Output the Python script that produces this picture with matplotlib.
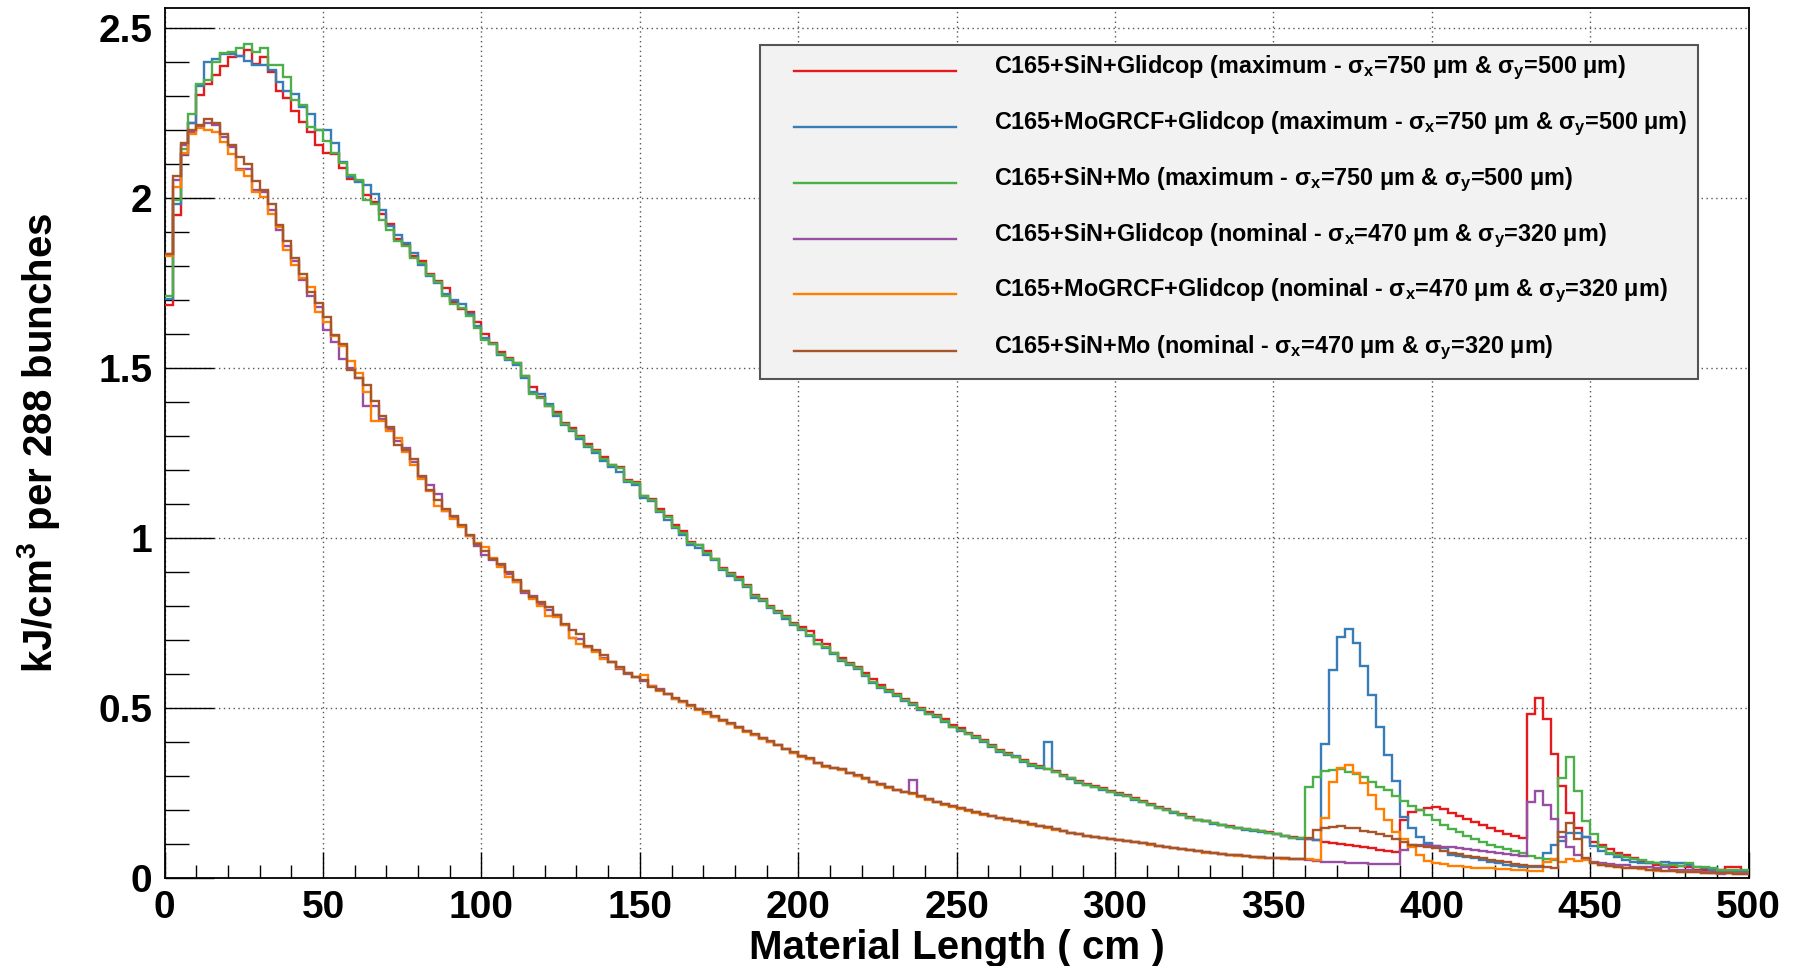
import numpy as np
import matplotlib
matplotlib.use("Agg")
import matplotlib.pyplot as plt
from matplotlib.patches import Rectangle
from matplotlib.ticker import MultipleLocator, FuncFormatter


# DATA : energy deposition per 2.5 cm bin, 0 -> 500 cm

BIN_WIDTH = 2.5
X_MIN, X_MAX = 0.0, 500.0

red_max = [
    1.685, 1.952, 2.127, 2.222, 2.303, 2.335, 2.364, 2.389, 2.416, 2.419,
    2.437, 2.394, 2.417, 2.372, 2.316, 2.296, 2.258, 2.225, 2.196, 2.157,
    2.132, 2.129, 2.088, 2.058, 2.050, 2.010, 1.990, 1.955, 1.925, 1.880,
    1.862, 1.830, 1.815, 1.776, 1.756, 1.735, 1.694, 1.675, 1.665, 1.635,
    1.600, 1.575, 1.548, 1.530, 1.516, 1.476, 1.445, 1.415, 1.390, 1.370,
    1.340, 1.325, 1.300, 1.278, 1.258, 1.240, 1.215, 1.208, 1.172, 1.165,
    1.125, 1.115, 1.085, 1.066, 1.040, 1.020, 0.990, 0.980, 0.962, 0.940,
    0.912, 0.898, 0.885, 0.862, 0.834, 0.820, 0.800, 0.787, 0.770, 0.750,
    0.740, 0.728, 0.700, 0.688, 0.663, 0.646, 0.634, 0.620, 0.602, 0.585,
    0.568, 0.553, 0.540, 0.527, 0.515, 0.499, 0.487, 0.480, 0.467, 0.450,
    0.440, 0.428, 0.417, 0.405, 0.390, 0.378, 0.367, 0.357, 0.347, 0.334,
    0.329, 0.322, 0.314, 0.302, 0.295, 0.285, 0.277, 0.271, 0.264, 0.257,
    0.249, 0.244, 0.234, 0.227, 0.217, 0.208, 0.202, 0.195, 0.187, 0.180,
    0.172, 0.169, 0.163, 0.157, 0.152, 0.148, 0.144, 0.141, 0.138, 0.134,
    0.130, 0.125, 0.120, 0.117, 0.116, 0.112, 0.107, 0.102, 0.100, 0.098,
    0.094, 0.092, 0.088, 0.083, 0.080, 0.077, 0.171, 0.195, 0.200, 0.205,
    0.208, 0.202, 0.192, 0.183, 0.173, 0.164, 0.155, 0.146, 0.138, 0.130,
    0.124, 0.118, 0.482, 0.531, 0.467, 0.364, 0.271, 0.190, 0.146, 0.122,
    0.107, 0.097, 0.084, 0.074, 0.068, 0.058, 0.050, 0.045, 0.038, 0.038,
    0.033, 0.035, 0.031, 0.025, 0.024, 0.019, 0.024, 0.031, 0.031, 0.019,
]

blue_max = [
    1.705, 1.984, 2.131, 2.222, 2.331, 2.402, 2.410, 2.425, 2.425, 2.420,
    2.405, 2.392, 2.392, 2.377, 2.341, 2.316, 2.306, 2.270, 2.248, 2.201,
    2.201, 2.164, 2.108, 2.063, 2.048, 2.039, 2.012, 1.966, 1.919, 1.891,
    1.870, 1.840, 1.805, 1.770, 1.752, 1.718, 1.700, 1.690, 1.660, 1.625,
    1.590, 1.570, 1.540, 1.524, 1.510, 1.470, 1.430, 1.425, 1.395, 1.360,
    1.333, 1.315, 1.292, 1.268, 1.250, 1.226, 1.208, 1.196, 1.165, 1.155,
    1.118, 1.110, 1.076, 1.052, 1.030, 1.010, 0.980, 0.972, 0.950, 0.935,
    0.905, 0.890, 0.878, 0.856, 0.825, 0.814, 0.795, 0.780, 0.763, 0.744,
    0.731, 0.712, 0.688, 0.677, 0.659, 0.639, 0.628, 0.614, 0.595, 0.574,
    0.560, 0.548, 0.535, 0.522, 0.509, 0.494, 0.482, 0.474, 0.460, 0.443,
    0.433, 0.423, 0.412, 0.400, 0.386, 0.372, 0.362, 0.358, 0.342, 0.330,
    0.324, 0.401, 0.311, 0.299, 0.291, 0.281, 0.273, 0.267, 0.259, 0.252,
    0.245, 0.240, 0.230, 0.223, 0.214, 0.206, 0.199, 0.192, 0.184, 0.177,
    0.170, 0.167, 0.160, 0.155, 0.150, 0.146, 0.142, 0.139, 0.136, 0.132,
    0.128, 0.123, 0.118, 0.116, 0.114, 0.112, 0.393, 0.612, 0.710, 0.734,
    0.692, 0.624, 0.538, 0.445, 0.362, 0.285, 0.180, 0.147, 0.120, 0.102,
    0.095, 0.087, 0.068, 0.065, 0.061, 0.058, 0.053, 0.048, 0.043, 0.038,
    0.036, 0.033, 0.033, 0.033, 0.074, 0.096, 0.110, 0.131, 0.132, 0.122,
    0.095, 0.080, 0.072, 0.063, 0.053, 0.048, 0.045, 0.045, 0.043, 0.048,
    0.043, 0.045, 0.038, 0.033, 0.028, 0.024, 0.022, 0.022, 0.019, 0.022,
]

green_max = [
    1.713, 1.995, 2.144, 2.248, 2.335, 2.349, 2.402, 2.429, 2.430, 2.443,
    2.453, 2.432, 2.443, 2.392, 2.392, 2.358, 2.289, 2.275, 2.210, 2.201,
    2.169, 2.134, 2.103, 2.068, 2.053, 1.995, 1.982, 1.936, 1.906, 1.875,
    1.860, 1.825, 1.810, 1.774, 1.754, 1.713, 1.688, 1.678, 1.653, 1.617,
    1.582, 1.572, 1.543, 1.528, 1.514, 1.476, 1.424, 1.411, 1.388, 1.364,
    1.337, 1.318, 1.298, 1.271, 1.257, 1.234, 1.215, 1.205, 1.169, 1.161,
    1.123, 1.112, 1.080, 1.061, 1.033, 1.016, 0.986, 0.979, 0.955, 0.940,
    0.908, 0.894, 0.881, 0.859, 0.829, 0.818, 0.798, 0.783, 0.767, 0.747,
    0.734, 0.716, 0.690, 0.680, 0.661, 0.641, 0.631, 0.617, 0.597, 0.577,
    0.563, 0.551, 0.538, 0.524, 0.512, 0.496, 0.484, 0.477, 0.463, 0.445,
    0.435, 0.425, 0.414, 0.402, 0.388, 0.375, 0.365, 0.355, 0.345, 0.332,
    0.326, 0.320, 0.312, 0.300, 0.293, 0.283, 0.275, 0.269, 0.261, 0.254,
    0.247, 0.242, 0.231, 0.225, 0.215, 0.207, 0.200, 0.193, 0.185, 0.178,
    0.171, 0.168, 0.161, 0.156, 0.151, 0.147, 0.143, 0.141, 0.137, 0.133,
    0.129, 0.124, 0.119, 0.117, 0.267, 0.298, 0.316, 0.318, 0.320, 0.313,
    0.305, 0.296, 0.283, 0.267, 0.258, 0.242, 0.226, 0.211, 0.200, 0.185,
    0.172, 0.155, 0.144, 0.134, 0.124, 0.115, 0.106, 0.098, 0.091, 0.085,
    0.079, 0.075, 0.066, 0.060, 0.057, 0.054, 0.295, 0.357, 0.257, 0.169,
    0.128, 0.092, 0.075, 0.068, 0.063, 0.055, 0.053, 0.048, 0.045, 0.038,
    0.038, 0.035, 0.043, 0.031, 0.031, 0.028, 0.025, 0.025, 0.024, 0.024,
]

purple_nom = [
    1.835, 2.055, 2.158, 2.195, 2.212, 2.222, 2.215, 2.180, 2.150, 2.085,
    2.085, 2.025, 2.018, 1.965, 1.906, 1.860, 1.815, 1.759, 1.714, 1.680,
    1.612, 1.577, 1.526, 1.500, 1.470, 1.390, 1.389, 1.350, 1.320, 1.285,
    1.265, 1.225, 1.180, 1.155, 1.130, 1.080, 1.060, 1.035, 1.005, 0.978,
    0.950, 0.935, 0.920, 0.895, 0.872, 0.840, 0.830, 0.805, 0.790, 0.775,
    0.745, 0.706, 0.702, 0.680, 0.668, 0.648, 0.635, 0.615, 0.600, 0.592,
    0.580, 0.565, 0.555, 0.540, 0.528, 0.518, 0.507, 0.497, 0.486, 0.475,
    0.465, 0.454, 0.444, 0.432, 0.422, 0.411, 0.401, 0.391, 0.380, 0.369,
    0.358, 0.350, 0.339, 0.330, 0.325, 0.320, 0.310, 0.301, 0.293, 0.283,
    0.276, 0.267, 0.259, 0.254, 0.288, 0.241, 0.231, 0.225, 0.218, 0.212,
    0.205, 0.200, 0.193, 0.188, 0.183, 0.178, 0.173, 0.169, 0.164, 0.159,
    0.154, 0.149, 0.143, 0.138, 0.133, 0.129, 0.125, 0.122, 0.119, 0.115,
    0.112, 0.110, 0.106, 0.103, 0.099, 0.095, 0.092, 0.088, 0.085, 0.082,
    0.079, 0.076, 0.074, 0.071, 0.069, 0.067, 0.065, 0.063, 0.061, 0.060,
    0.059, 0.058, 0.057, 0.056, 0.053, 0.050, 0.048, 0.047, 0.046, 0.045,
    0.044, 0.043, 0.042, 0.041, 0.041, 0.040, 0.082, 0.097, 0.097, 0.096,
    0.094, 0.092, 0.090, 0.087, 0.085, 0.082, 0.079, 0.077, 0.074, 0.071,
    0.068, 0.065, 0.224, 0.256, 0.216, 0.173, 0.120, 0.090, 0.068, 0.056,
    0.048, 0.043, 0.041, 0.038, 0.037, 0.033, 0.031, 0.031, 0.028, 0.033,
    0.025, 0.023, 0.023, 0.021, 0.019, 0.016, 0.012, 0.014, 0.014, 0.014,
]

orange_nom = [
    1.830, 2.033, 2.134, 2.188, 2.208, 2.202, 2.195, 2.166, 2.131, 2.082,
    2.065, 2.019, 2.004, 1.953, 1.915, 1.847, 1.804, 1.765, 1.739, 1.665,
    1.635, 1.594, 1.566, 1.520, 1.485, 1.430, 1.345, 1.344, 1.315, 1.295,
    1.255, 1.215, 1.175, 1.140, 1.095, 1.080, 1.055, 1.032, 1.005, 0.985,
    0.975, 0.942, 0.915, 0.885, 0.872, 0.845, 0.822, 0.800, 0.770, 0.768,
    0.745, 0.705, 0.690, 0.680, 0.665, 0.645, 0.635, 0.618, 0.602, 0.590,
    0.596, 0.566, 0.551, 0.540, 0.528, 0.517, 0.506, 0.495, 0.484, 0.474,
    0.463, 0.453, 0.442, 0.431, 0.420, 0.410, 0.400, 0.390, 0.379, 0.368,
    0.357, 0.349, 0.337, 0.328, 0.323, 0.319, 0.308, 0.300, 0.291, 0.282,
    0.274, 0.266, 0.258, 0.252, 0.247, 0.239, 0.230, 0.223, 0.216, 0.210,
    0.203, 0.198, 0.191, 0.186, 0.181, 0.176, 0.171, 0.167, 0.162, 0.157,
    0.152, 0.147, 0.142, 0.137, 0.132, 0.128, 0.124, 0.121, 0.117, 0.114,
    0.111, 0.108, 0.105, 0.102, 0.098, 0.094, 0.091, 0.087, 0.084, 0.081,
    0.078, 0.075, 0.073, 0.070, 0.068, 0.066, 0.064, 0.062, 0.060, 0.059,
    0.058, 0.057, 0.056, 0.055, 0.055, 0.054, 0.178, 0.283, 0.325, 0.332,
    0.310, 0.280, 0.244, 0.202, 0.171, 0.136, 0.115, 0.090, 0.067, 0.050,
    0.045, 0.040, 0.036, 0.034, 0.032, 0.030, 0.029, 0.028, 0.027, 0.026,
    0.025, 0.023, 0.021, 0.020, 0.048, 0.055, 0.048, 0.055, 0.050, 0.053,
    0.045, 0.038, 0.035, 0.032, 0.030, 0.028, 0.026, 0.024, 0.022, 0.022,
    0.020, 0.019, 0.018, 0.017, 0.016, 0.015, 0.015, 0.014, 0.013, 0.012,
]

brown_nom = [
    1.835, 2.065, 2.164, 2.200, 2.215, 2.232, 2.222, 2.190, 2.156, 2.121,
    2.102, 2.051, 2.024, 1.984, 1.921, 1.873, 1.825, 1.776, 1.723, 1.691,
    1.651, 1.597, 1.572, 1.496, 1.472, 1.452, 1.404, 1.359, 1.328, 1.273,
    1.258, 1.232, 1.182, 1.141, 1.111, 1.085, 1.065, 1.040, 1.009, 0.984,
    0.963, 0.940, 0.925, 0.901, 0.876, 0.845, 0.827, 0.813, 0.796, 0.773,
    0.747, 0.731, 0.719, 0.682, 0.670, 0.656, 0.636, 0.621, 0.604, 0.590,
    0.582, 0.563, 0.553, 0.541, 0.530, 0.520, 0.508, 0.498, 0.487, 0.476,
    0.466, 0.455, 0.445, 0.433, 0.423, 0.412, 0.402, 0.392, 0.381, 0.370,
    0.359, 0.352, 0.339, 0.329, 0.325, 0.322, 0.310, 0.302, 0.293, 0.283,
    0.276, 0.267, 0.259, 0.254, 0.249, 0.241, 0.231, 0.225, 0.218, 0.212,
    0.205, 0.200, 0.193, 0.188, 0.183, 0.178, 0.173, 0.169, 0.164, 0.159,
    0.154, 0.149, 0.143, 0.138, 0.133, 0.129, 0.125, 0.122, 0.119, 0.115,
    0.112, 0.110, 0.106, 0.103, 0.099, 0.095, 0.092, 0.088, 0.085, 0.082,
    0.079, 0.076, 0.074, 0.071, 0.069, 0.067, 0.065, 0.063, 0.061, 0.060,
    0.059, 0.058, 0.057, 0.056, 0.117, 0.141, 0.146, 0.149, 0.153, 0.147,
    0.146, 0.139, 0.134, 0.129, 0.124, 0.114, 0.105, 0.097, 0.095, 0.092,
    0.087, 0.080, 0.075, 0.070, 0.066, 0.062, 0.058, 0.054, 0.050, 0.046,
    0.042, 0.039, 0.036, 0.034, 0.031, 0.030, 0.134, 0.161, 0.114, 0.060,
    0.043, 0.038, 0.035, 0.033, 0.030, 0.028, 0.028, 0.025, 0.024, 0.022,
    0.020, 0.019, 0.018, 0.018, 0.016, 0.016, 0.015, 0.015, 0.013, 0.013,
]

LABELS = [
    r"C165+SiN+Glidcop (maximum - σ$_{x}$=750 μm & σ$_{y}$=500 μm)",
    r"C165+MoGRCF+Glidcop (maximum - σ$_{x}$=750 μm & σ$_{y}$=500 μm)",
    r"C165+SiN+Mo (maximum - σ$_{x}$=750 μm & σ$_{y}$=500 μm)",
    r"C165+SiN+Glidcop (nominal - σ$_{x}$=470 μm & σ$_{y}$=320 μm)",
    r"C165+MoGRCF+Glidcop (nominal - σ$_{x}$=470 μm & σ$_{y}$=320 μm)",
    r"C165+SiN+Mo (nominal - σ$_{x}$=470 μm & σ$_{y}$=320 μm)",
]

COLORS = ["#e41a1c", "#377eb8", "#4daf4a", "#984ea3", "#ff7f00", "#a65628"]

SERIES = [red_max, blue_max, green_max, purple_nom, orange_nom, brown_nom]


# STYLE

plt.rcParams["font.family"] = ["Liberation Sans", "DejaVu Sans"]
plt.rcParams["font.weight"] = "bold"
plt.rcParams["axes.labelweight"] = "bold"
plt.rcParams["mathtext.fontset"] = "custom"
plt.rcParams["mathtext.rm"] = "Liberation Sans:bold"
plt.rcParams["mathtext.it"] = "Liberation Sans:bold"
plt.rcParams["mathtext.bf"] = "Liberation Sans:bold"


def main():
    fig = plt.figure(figsize=(18, 9.66), dpi=100)
    ax = fig.add_axes([0.0915, 0.0911, 0.8799, 0.9006])

    edges = np.arange(len(red_max) + 1) * BIN_WIDTH

    for values, color in zip(SERIES, COLORS):
        ax.stairs(values, edges, color=color, lw=1.7, baseline=None, zorder=3)

    ax.set_xlim(X_MIN, X_MAX)
    ax.set_ylim(0, 2.56)

    # ticks ROOT style
    ax.xaxis.set_major_locator(MultipleLocator(50))
    ax.xaxis.set_minor_locator(MultipleLocator(10))
    ax.yaxis.set_major_locator(MultipleLocator(0.5))
    ax.yaxis.set_minor_locator(MultipleLocator(0.1))
    ax.yaxis.set_major_formatter(FuncFormatter(lambda v, p: f"{v:g}"))

    ax.tick_params(which="both", direction="in", top=False, right=False,
                   width=1.0, color="black", labelsize=28)
    ax.tick_params(axis="x", which="major", length=19, pad=9)
    ax.tick_params(axis="x", which="minor", length=9.5)
    ax.tick_params(axis="y", which="major", length=35, pad=9)
    ax.tick_params(axis="y", which="minor", length=17)

    ax.grid(True, which="major", linestyle=(0, (1, 2.5)), color="#555555", lw=1.0)
    ax.set_axisbelow(True)

    for spine in ax.spines.values():
        spine.set_linewidth(1.3)
        spine.set_color("black")

    ax.set_xlabel("Material Length ( cm )", fontsize=29, fontweight="bold",
                  labelpad=2)
    ax.set_ylabel(r"kJ/cm$^{3}$ per 288 bunches", fontsize=29,
                  fontweight="bold", labelpad=26)

    # legend box
    box = Rectangle((0.3759, 0.5736), 0.9682 - 0.3759, 0.9575 - 0.5736,
                    transform=ax.transAxes, facecolor="#f2f2f2",
                    edgecolor="#555555", lw=1.5, zorder=5)
    ax.add_patch(box)

    row_y = [0.9276, 0.8636, 0.7985, 0.7345, 0.6709, 0.6061]
    for label, color, y in zip(LABELS, COLORS, row_y):
        ax.plot([0.3973, 0.4996], [y, y], transform=ax.transAxes,
                color=color, lw=1.7, zorder=6)
        ax.text(0.5236, y - 0.0023, label, transform=ax.transAxes,
                fontsize=16.8, fontweight="bold", va="baseline", ha="left",
                zorder=6)

    fig.savefig("out.png", dpi=100)


if __name__ == "__main__":
    main()
